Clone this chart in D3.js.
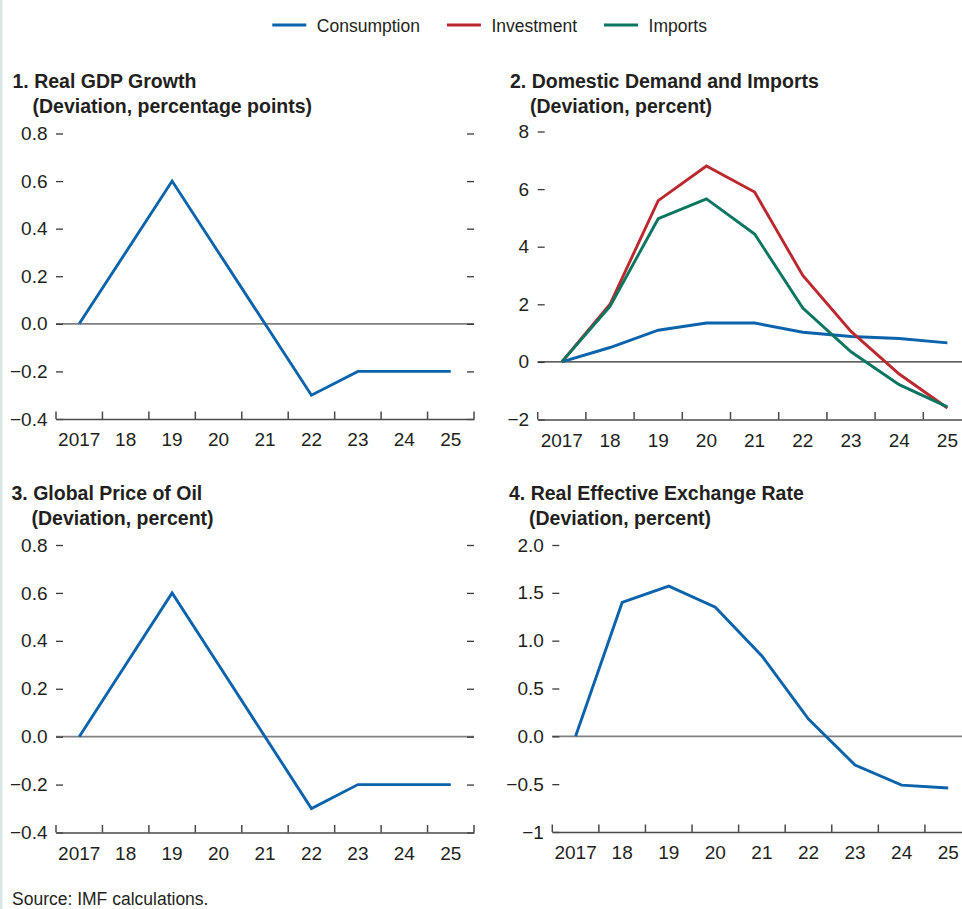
<!DOCTYPE html>
<html>
<head>
<meta charset="utf-8">
<script src="https://cdn.jsdelivr.net/npm/d3@7"></script>
<style>
  html, body { margin: 0; padding: 0; background: #fff; }
  svg { display: block; }
  text { font-family: "Liberation Sans", Arial, sans-serif; fill: #231f20; }
</style>
</head>
<body>
<svg id="chart" width="962" height="909"></svg>
<script>
// ---------------- data ----------------
const years = ["2017", "18", "19", "20", "21", "22", "23", "24", "25"];

const gdpGrowth   = [0, 0.3, 0.6, 0.3, 0, -0.3, -0.2, -0.2, -0.2];
const consumption = [0, 0.5, 1.1, 1.35, 1.35, 1.03, 0.88, 0.81, 0.66];
const investment  = [0, 2.0, 5.6, 6.8, 5.9, 3.0, 1.06, -0.42, -1.6];
const imports     = [0, 1.93, 4.97, 5.66, 4.44, 1.87, 0.35, -0.79, -1.56];
const oilPrice    = [0, 0.3, 0.6, 0.3, 0, -0.3, -0.2, -0.2, -0.2];
const reer        = [0, 1.40, 1.57, 1.35, 0.84, 0.18, -0.3, -0.51, -0.54];

const ticksA  = [-0.4, -0.2, 0, 0.2, 0.4, 0.6, 0.8];
const labelsA = ["\u22120.4", "\u22120.2", "0.0", "0.2", "0.4", "0.6", "0.8"];
const ticksB  = [-2, 0, 2, 4, 6, 8];
const labelsB = ["\u22122", "0", "2", "4", "6", "8"];
const ticksC  = [-1, -0.5, 0, 0.5, 1, 1.5, 2];
const labelsC = ["\u22121", "\u22120.5", "0.0", "0.5", "1.0", "1.5", "2.0"];

const seriesNames = ["Consumption", "Investment", "Imports"];
const colors = { Consumption: "#0b63ab", Investment: "#bb282e", Imports: "#0a7661" };

const titles = [
  ["1. Real GDP Growth", "(Deviation, percentage points)"],
  ["2. Domestic Demand and Imports", "(Deviation, percent)"],
  ["3. Global Price of Oil", "(Deviation, percent)"],
  ["4. Real Effective Exchange Rate", "(Deviation, percent)"]
];
const sourceNote = "Source: IMF calculations.";

// ---------------- layout ----------------
const svg = d3.select("#chart");
svg.append("rect").attr("x", 0).attr("y", 0).attr("width", 962).attr("height", 909).attr("fill", "#fff");
svg.append("rect").attr("x", 0).attr("y", 0).attr("width", 2.5).attr("height", 909).attr("fill", "#dbe7e4");

const panels = [
  { title: titles[0], tx: 12.5, ty: 87.5, x0: 56, x1: 474, yTop: 133.5, yBot: 419,
    domain: [-0.4, 0.8], ticks: ticksA, labels: labelsA, zeroColor: "#808080", zeroW: 1.6,
    series: [{ name: "Consumption", values: gdpGrowth }] },
  { title: titles[1], tx: 510, ty: 87.5, x0: 537.7, x1: 971.5, yTop: 131.5, yBot: 419.5,
    domain: [-2, 8], ticks: ticksB, labels: labelsB, zeroColor: "#2a2a2a", zeroW: 1.2,
    series: [{ name: "Consumption", values: consumption },
             { name: "Investment", values: investment },
             { name: "Imports", values: imports }] },
  { title: titles[2], tx: 11.5, ty: 499.5, x0: 56, x1: 474, yTop: 545, yBot: 832.5,
    domain: [-0.4, 0.8], ticks: ticksA, labels: labelsA, zeroColor: "#808080", zeroW: 1.6,
    series: [{ name: "Consumption", values: oilPrice }] },
  { title: titles[3], tx: 509, ty: 499.5, x0: 552.3, x1: 971.5, yTop: 545, yBot: 832,
    domain: [-1, 2], ticks: ticksC, labels: labelsC, zeroColor: "#808080", zeroW: 1.6,
    series: [{ name: "Consumption", values: reer }] }
];

panels.forEach(p => {
  const g = svg.append("g");

  // titles
  g.append("text").attr("x", p.tx).attr("y", p.ty)
    .attr("font-size", 19.5).attr("font-weight", "bold").text(p.title[0]);
  g.append("text").attr("x", p.tx + 20).attr("y", p.ty + 25.5)
    .attr("font-size", 19.5).attr("font-weight", "bold").text(p.title[1]);

  const x = d3.scaleBand().domain(years).range([p.x0, p.x1]).padding(0);
  const y = d3.scaleLinear().domain(p.domain).range([p.yBot, p.yTop]);

  // zero line
  g.append("line")
    .attr("x1", p.x0).attr("x2", p.x1)
    .attr("y1", y(0)).attr("y2", y(0))
    .attr("stroke", p.zeroColor).attr("stroke-width", p.zeroW);

  // left y axis (inward dashes)
  const yAxis = d3.axisLeft(y).tickValues(p.ticks)
    .tickFormat((d, i) => p.labels[i]).tickSize(-7).tickPadding(8.5);
  const ya = g.append("g").attr("transform", `translate(${p.x0},0)`).call(yAxis);
  ya.select(".domain").remove();
  ya.selectAll(".tick line").attr("stroke", "#3a3a3a").attr("stroke-width", 1.3);
  ya.selectAll(".tick text").attr("font-size", 19)
    .style("font-family", "'Liberation Sans', Arial, sans-serif").attr("fill", "#231f20");

  // right y axis (inward dashes, no labels)
  const yAxisR = d3.axisRight(y).tickValues(p.ticks).tickFormat("").tickSize(-7);
  const yr = g.append("g").attr("transform", `translate(${p.x1},0)`).call(yAxisR);
  yr.select(".domain").remove();
  yr.selectAll(".tick line").attr("stroke", "#3a3a3a").attr("stroke-width", 1.3);

  // x axis: labels centered in bands
  const xAxis = d3.axisBottom(x).tickSize(0).tickSizeOuter(0).tickPadding(14);
  const xa = g.append("g").attr("transform", `translate(0,${p.yBot})`).call(xAxis);
  xa.select(".domain").attr("stroke", "#4a4a4a").attr("stroke-width", 1.6);
  xa.selectAll(".tick text").attr("font-size", 19)
    .style("font-family", "'Liberation Sans', Arial, sans-serif").attr("fill", "#231f20");

  // x boundary ticks (pointing up)
  const bounds = years.map(d => x(d)).concat([x(years[years.length - 1]) + x.bandwidth()]);
  g.selectAll("line.xb").data(bounds).enter().append("line")
    .attr("class", "xb")
    .attr("x1", d => d).attr("x2", d => d)
    .attr("y1", p.yBot).attr("y2", p.yBot - 7.5)
    .attr("stroke", "#4a4a4a").attr("stroke-width", 1.5);

  // series lines
  const line = d3.line()
    .x((d, i) => x(years[i]) + x.bandwidth() / 2)
    .y(d => y(d));
  p.series.forEach(s => {
    g.append("path").datum(s.values)
      .attr("d", line)
      .attr("fill", "none")
      .attr("stroke", colors[s.name])
      .attr("stroke-width", 2.9)
      .attr("stroke-linejoin", "miter");
  });
});

// legend
const lg = svg.append("g");
let lx = 272.3;
seriesNames.forEach(name => {
  lg.append("line").attr("x1", lx).attr("x2", lx + 34)
    .attr("y1", 25).attr("y2", 25)
    .attr("stroke", colors[name]).attr("stroke-width", 2.9);
  const t = lg.append("text").attr("x", lx + 44.5).attr("y", 32)
    .attr("font-size", 17.5).text(name);
  const w = t.node().getComputedTextLength();
  lx = lx + 44.5 + w + 27;
});

// source
svg.append("text").attr("x", 12).attr("y", 905)
  .attr("font-size", 17.5).text(sourceNote);
</script>
</body>
</html>
